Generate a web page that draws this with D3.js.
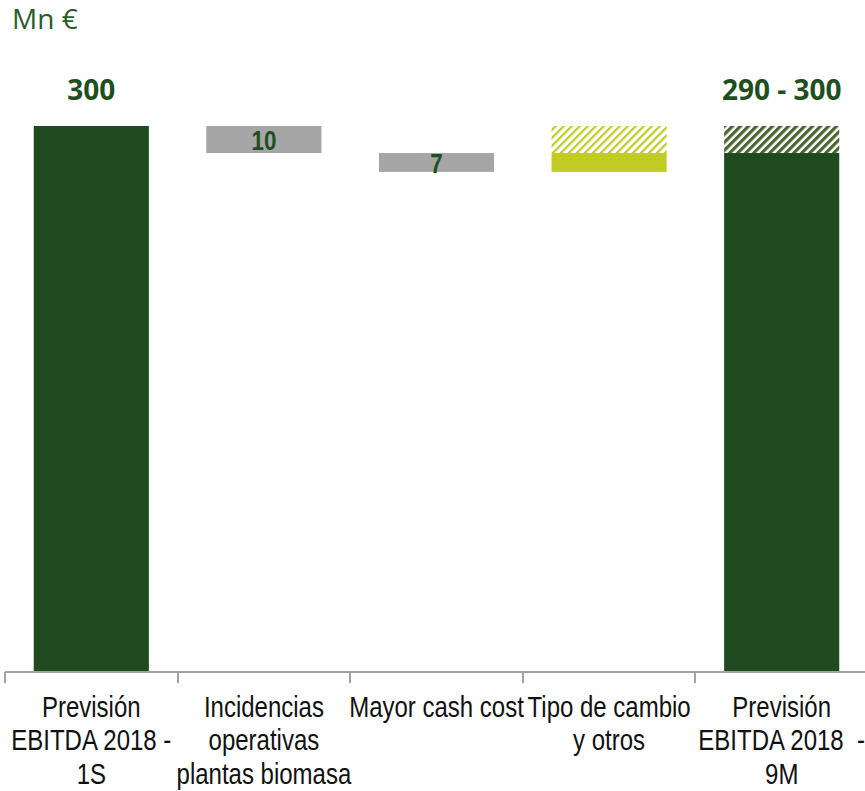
<!DOCTYPE html>
<html><head><meta charset="utf-8">
<script src="https://cdn.jsdelivr.net/npm/d3@7/dist/d3.min.js"></script>
<style>
html,body{margin:0;padding:0;background:#fff;}
svg{display:block;}
</style></head>
<body>
<svg id="chart" width="865" height="791"></svg>
<script>
// ---- data ----
const categoryLines = [
  ["Previsión", "EBITDA 2018 -", "1S"],
  ["Incidencias", "operativas", "plantas biomasa"],
  ["Mayor cash cost"],
  ["Tipo de cambio", "y otros"],
  ["Previsión", "EBITDA 2018  -", "9M"]
];
const startValue = 300;           // Previsión EBITDA 2018 - 1S
const changes = [-10, -7, 7];      // Incidencias, Mayor cash cost, Tipo de cambio (firm part)
const upside = [0, 0, 0, 10, 10];  // hatched range on top
const valueLabels = ["300", "10", "7", "", "290 - 300"];
const barKinds = ["total", "neg", "neg", "pos", "total"];
const unitLabel = "Mn €";

// ---- style ----
const W = 865, H = 791;
const colors = { total: "#1f4a1f", neg: "#a6a6a6", pos: "#c2cc25" };
const hatchColors = { total: "#4a6630", pos: "#c2cc25" };
const textGreen = "#1f4e1f";

const svg = d3.select("#chart");

// ---- waterfall computation ----
const yMin = 98;
const bars = [];
let running = startValue;
bars.push({ i: 0, lo: yMin, hi: startValue });
changes.forEach((c, k) => {
  const next = running + c;
  bars.push({ i: k + 1, lo: Math.min(running, next), hi: Math.max(running, next) });
  running = next;
});
bars.push({ i: 4, lo: yMin, hi: running });
bars.forEach(b => { b.up = upside[b.i]; b.kind = barKinds[b.i]; b.label = valueLabels[b.i]; });

// ---- scales ----
const x = d3.scaleBand().domain(d3.range(categoryLines.length)).range([5, 868]).padding(0);
const y = d3.scaleLinear().domain([yMin, 300]).range([672, 126]);
const barW = x.bandwidth() * 0.667;

// ---- patterns ----
const defs = svg.append("defs");
[["hatch-total", hatchColors.total, 3.2], ["hatch-pos", hatchColors.pos, 2.2]].forEach(([id, col, sw]) => {
  const p = defs.append("pattern").attr("id", id).attr("patternUnits", "userSpaceOnUse")
    .attr("width", 5.66).attr("height", 5.66).attr("patternTransform", "rotate(45)");
  p.append("rect").attr("x", 0).attr("y", 0).attr("width", sw).attr("height", 5.66).attr("fill", col);
});

// ---- bars ----
const g = svg.append("g");
g.selectAll("rect.bar").data(bars).join("rect").attr("class", "bar")
  .attr("x", d => x(d.i) + (x.bandwidth() - barW) / 2)
  .attr("y", d => y(d.hi))
  .attr("width", barW)
  .attr("height", d => y(d.lo) - y(d.hi))
  .attr("fill", d => colors[d.kind]);

g.selectAll("rect.hatch").data(bars.filter(d => d.up > 0)).join("rect").attr("class", "hatch")
  .attr("x", d => x(d.i) + (x.bandwidth() - barW) / 2)
  .attr("y", d => y(d.hi + d.up))
  .attr("width", barW)
  .attr("height", d => y(d.hi) - y(d.hi + d.up))
  .attr("fill", d => `url(#hatch-${d.kind})`);

// ---- value labels ----
bars.filter(d => d.label && d.kind === "total").forEach(d => {
  svg.append("text")
    .attr("x", x(d.i) + x.bandwidth() / 2)
    .attr("y", y(d.hi + d.up) - 26)
    .attr("text-anchor", "middle")
    .attr("font-family", "'Open Sans', sans-serif")
    .attr("font-weight", "bold")
    .attr("font-size", 28)
    .attr("fill", textGreen)
    .text(d.label);
});
bars.filter(d => d.label && d.kind === "neg").forEach(d => {
  const cx = x(d.i) + x.bandwidth() / 2;
  const cy = (y(d.hi) + y(d.lo)) / 2;
  svg.append("g").attr("transform", `translate(${cx},${cy}) scale(0.8,1)`)
    .append("text")
    .attr("x", 0).attr("y", 10.5)
    .attr("text-anchor", "middle")
    .attr("font-family", "'Liberation Sans', Arial, sans-serif")
    .attr("font-weight", "bold")
    .attr("font-size", 28)
    .attr("fill", textGreen)
    .text(d.label);
});

// ---- unit label ----
svg.append("text").attr("x", 12).attr("y", 29)
  .attr("font-family", "'Open Sans', sans-serif").attr("font-size", 28)
  .attr("fill", "#2a5d2a").text(unitLabel);

// ---- axis ----
const axisG = svg.append("g");
axisG.append("line").attr("x1", 5).attr("x2", W).attr("y1", 672).attr("y2", 672)
  .attr("stroke", "#a3a3a3").attr("stroke-width", 2);
axisG.selectAll("line.tick").data(x.domain()).join("line").attr("class", "tick")
  .attr("x1", d => Math.round(x(d))).attr("x2", d => Math.round(x(d)))
  .attr("y1", 672).attr("y2", 683)
  .attr("stroke", "#a3a3a3").attr("stroke-width", 2);

// ---- category labels ----
categoryLines.forEach((lines, i) => {
  const cx = x(i) + x.bandwidth() / 2;
  const t = svg.append("g").attr("transform", `translate(${cx},0) scale(0.8,1)`)
    .append("text")
    .attr("text-anchor", "middle")
    .attr("font-family", "'Liberation Sans', Arial, sans-serif")
    .attr("font-size", 30)
    .attr("fill", "#111")
    .attr("xml:space", "preserve")
    .style("white-space", "pre");
  lines.forEach((ln, k) => {
    t.append("tspan").attr("x", 0).attr("y", 717 + k * 33.5).text(ln);
  });
});
</script>
</body></html>
